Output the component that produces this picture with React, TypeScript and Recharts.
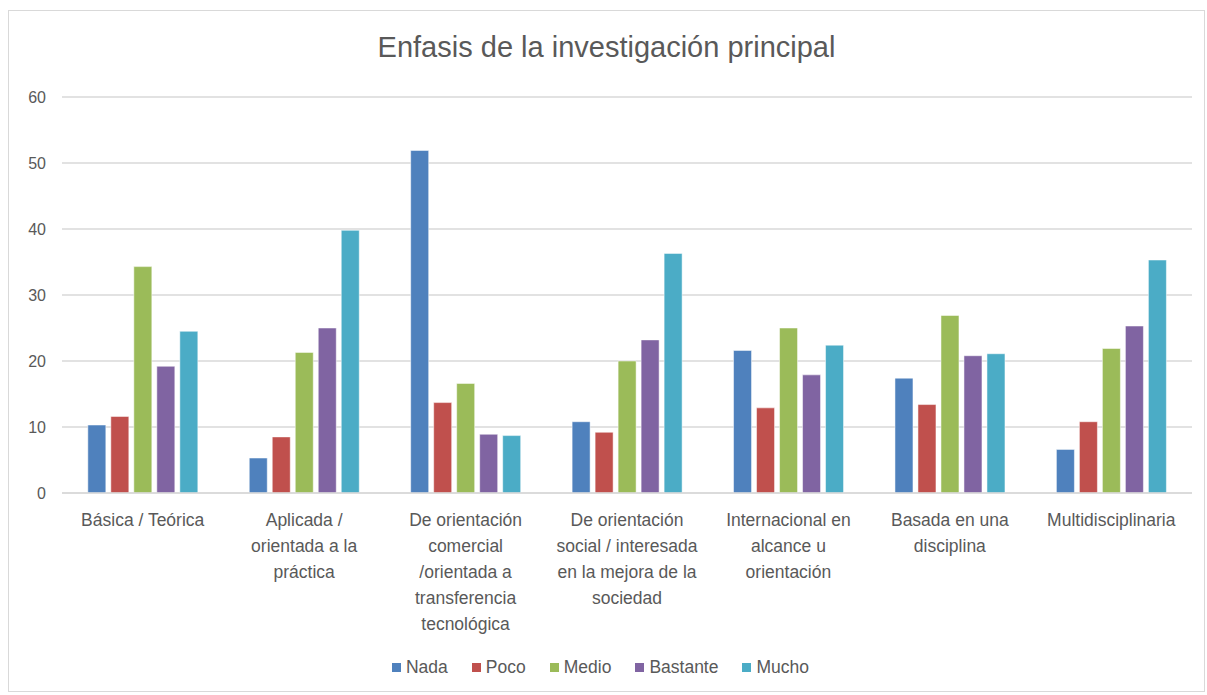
import { BarChart, Bar, XAxis, YAxis, CartesianGrid, Legend } from "recharts";

const categories = [
  "Básica / Teórica",
  "Aplicada / orientada a la práctica",
  "De orientación comercial /orientada a transferencia tecnológica",
  "De orientación social / interesada en la mejora de la sociedad",
  "Internacional en alcance u orientación",
  "Basada en una disciplina",
  "Multidisciplinaria",
];

// wrapped tick labels, as in the original
const tickLines = [
  ["Básica / Teórica"],
  ["Aplicada /", "orientada a la", "práctica"],
  ["De orientación", "comercial", "/orientada a", "transferencia", "tecnológica"],
  ["De orientación", "social / interesada", "en la mejora de la", "sociedad"],
  ["Internacional en", "alcance u", "orientación"],
  ["Basada en una", "disciplina"],
  ["Multidisciplinaria"],
];

const nada = [10.3, 5.3, 51.9, 10.8, 21.6, 17.4, 6.6];
const poco = [11.6, 8.5, 13.7, 9.2, 12.9, 13.4, 10.8];
const medio = [34.3, 21.3, 16.6, 20.0, 25.0, 26.9, 21.9];
const bastante = [19.2, 25.0, 8.9, 23.2, 17.9, 20.8, 25.3];
const mucho = [24.5, 39.8, 8.7, 36.3, 22.4, 21.1, 35.3];

const yTicks = [0, 10, 20, 30, 40, 50, 60];

const series = [
  { key: "Nada", values: nada, color: "#4f81bd" },
  { key: "Poco", values: poco, color: "#c0504d" },
  { key: "Medio", values: medio, color: "#9bbb59" },
  { key: "Bastante", values: bastante, color: "#8064a2" },
  { key: "Mucho", values: mucho, color: "#4bacc6" },
];

const data = categories.map((name, i) => {
  const row: Record<string, string | number> = { name };
  series.forEach((s) => (row[s.key] = s.values[i]));
  return row;
});

const FONT = "'Liberation Sans', Arial, sans-serif";
const TEXT = "#595959";

function CategoryTick(props: any) {
  const { x, y, index } = props;
  const lines = tickLines[index] ?? [];
  return (
    <text x={x} y={y + 25} textAnchor="middle" fill={TEXT} fontSize={17.5} fontFamily={FONT}>
      {lines.map((l, i) => (
        <tspan key={i} x={x} dy={i === 0 ? 0 : 26}>
          {l}
        </tspan>
      ))}
    </text>
  );
}

function LegendContent() {
  return (
    <div
      style={{
        height: 24,
        display: "flex",
        justifyContent: "center",
        alignItems: "center",
        fontFamily: FONT,
        fontSize: 17.5,
        color: TEXT,
      }}
    >
      {series.map((s) => (
        <span key={s.key} style={{ display: "inline-flex", alignItems: "center", margin: "0 12px" }}>
          <span style={{ width: 9, height: 9, background: s.color, marginRight: 5, display: "inline-block" }} />
          {s.key}
        </span>
      ))}
    </div>
  );
}

export default function App() {
  return (
    <div
      style={{
        position: "absolute",
        left: 8,
        top: 10,
        width: 1197,
        height: 682,
        boxSizing: "border-box",
        border: "1px solid #d9d9d9",
        background: "#fff",
      }}
    >
      <div
        style={{
          position: "absolute",
          top: 20,
          left: 0,
          width: "100%",
          textAlign: "center",
          fontFamily: FONT,
          fontSize: 29,
          color: TEXT,
        }}
      >
        Enfasis de la investigación principal
      </div>
      <BarChart
        width={1195}
        height={680}
        data={data}
        margin={{ top: 86, right: 12, left: 0, bottom: 12 }}
        barCategoryGap="16%"
        barGap={5}
      >
        <CartesianGrid vertical={false} stroke="#d9d9d9" strokeWidth={1.5} />
        <XAxis
          dataKey="name"
          height={162}
          interval={0}
          tickLine={false}
          axisLine={{ stroke: "#d9d9d9", strokeWidth: 1.5 }}
          tick={<CategoryTick />}
        />
        <YAxis
          width={53}
          domain={[0, 60]}
          ticks={yTicks}
          tickLine={false}
          axisLine={false}
          tickMargin={10}
          tick={{ fill: TEXT, fontSize: 16, fontFamily: FONT }}
        />
        <Legend verticalAlign="bottom" content={<LegendContent />} />
        {series.map((s) => (
          <Bar key={s.key} dataKey={s.key} fill={s.color} stroke="#ffffff" strokeWidth={0.5} isAnimationActive={false} />
        ))}
      </BarChart>
    </div>
  );
}
